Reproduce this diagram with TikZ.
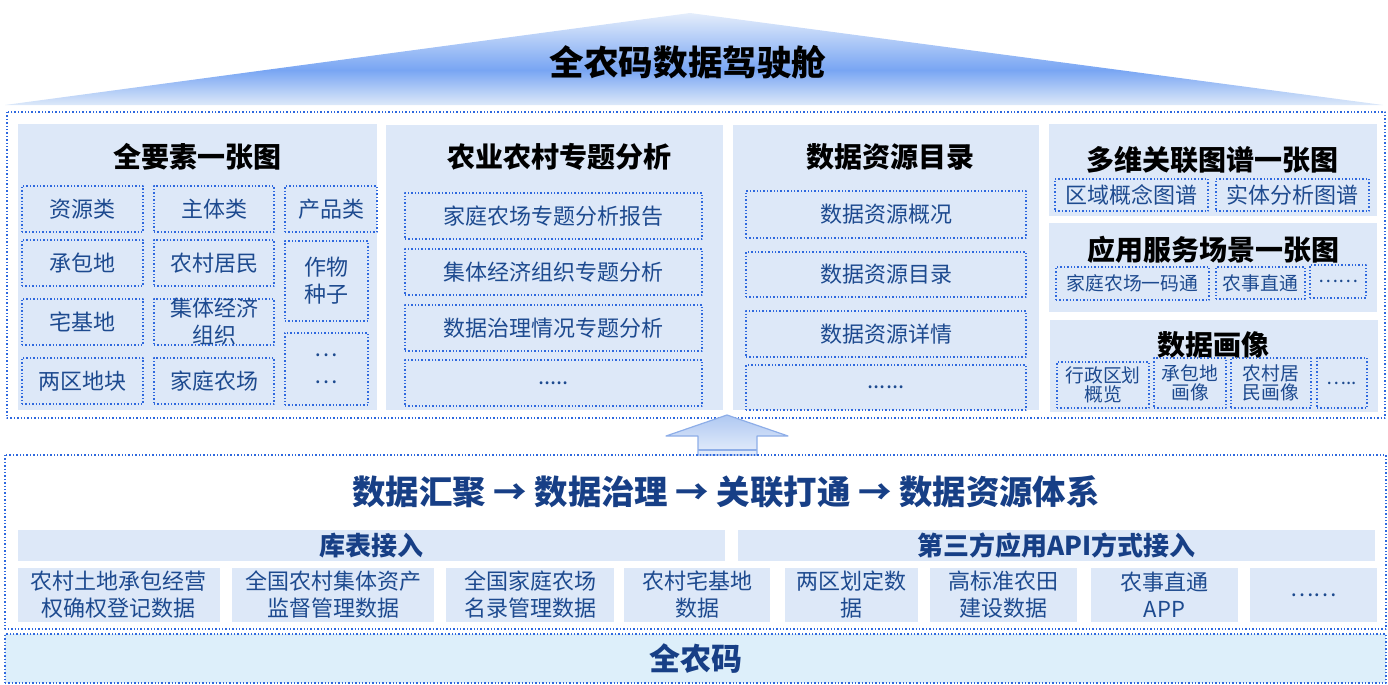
\documentclass[tikz,border=0pt]{standalone}
\usepackage{fontspec}
\newfontfamily\cjk{Noto Sans CJK SC}
\definecolor{panelfill}{HTML}{DDE8F8}
\definecolor{bandfill}{HTML}{DDEFFA}
\definecolor{dotblue}{HTML}{2E68DE}
\definecolor{txtblue}{HTML}{1D4A8F}
\definecolor{darkblue}{HTML}{173F86}
\definecolor{roofmid}{HTML}{78A5F3}
\definecolor{rooflight}{HTML}{DDE9F9}
\definecolor{rooftop}{HTML}{E4EDFB}
\definecolor{arrowtop}{HTML}{AFC8F2}
\definecolor{arrowbot}{HTML}{E6EEFB}
\definecolor{arrowline}{HTML}{8EAEE8}
\pgfdeclareverticalshading{roofshade}{100bp}{color(0bp)=(rooflight); color(25bp)=(rooflight); color(44bp)=(roofmid); color(75bp)=(rooftop); color(100bp)=(rooftop)}
% box from its corners (pixel units): style, name, x1, y1, x2, y2, text
\newcommand{\rbox}[7][]{\node[#1, minimum width={(#5-#3)*0.5pt}, minimum height={(#6-#4)*0.5pt}] (#2) at ({(#3+#5)/2},{(#4+#6)/2}) {#7};}
\begin{document}
\begin{tikzpicture}[x=0.5pt, y=-0.5pt, font=\cjk, line join=round,
	frame/.style={draw=dotblue, densely dotted, line width=0.7pt},
	panel/.style={fill=panelfill, inner sep=0pt, outer sep=0pt},
	cell/.style={frame, text=txtblue, align=center, inner sep=0pt, outer sep=0pt, font=\cjk\fontsize{11}{13.5}\selectfont},
	small/.style={font=\cjk\fontsize{9.4}{9.5}\selectfont},
	datacell/.style={fill=panelfill, text=txtblue, align=center, inner sep=0pt, font=\cjk\fontsize{11}{13.5}\selectfont},
	ptitle/.style={font=\cjk\bfseries\fontsize{14}{16}\selectfont},
	head/.style={fill=panelfill, text=darkblue, inner sep=0pt, font=\cjk\bfseries\fontsize{13}{15}\selectfont}]
	\useasboundingbox (0,0) rectangle (1388,685);

	% roof
	\shade[shading=roofshade] (5,105) -- (690,13) -- (1383,105) -- cycle;
	\node[font=\cjk\bfseries\fontsize{17.3}{20}\selectfont] (title) at (688,62) {全农码数据驾驶舱};

	% upper part
	\draw[frame] (7,112) rectangle (1385,418);
	\rbox[panel]{p1}{18}{124}{377}{410}{}
	\rbox[panel]{p2}{386}{125}{723}{410}{}
	\rbox[panel]{p3}{733}{125}{1039}{410}{}
	\rbox[panel]{p4}{1049}{124}{1377}{216}{}
	\rbox[panel]{p5}{1049}{223}{1377}{312}{}
	\rbox[panel]{p6}{1050}{320}{1378}{412}{}
	\node[ptitle] (t1) at (197,157) {全要素一张图};
	\node[ptitle] (t2) at (559,157) {农业农村专题分析};
	\node[ptitle] (t3) at (890,157) {数据资源目录};
	\node[ptitle] (t4) at (1212,160) {多维关联图谱一张图};
	\node[ptitle] (t5) at (1213,250) {应用服务场景一张图};
	\node[ptitle] (t6) at (1213,345) {数据画像};

	\foreach \ya/\yb/\ta/\tb [count=\i] in {186/232/资源类/主体类, 240/286/承包地/农村居民, 299/345/宅基地/{}, 358/404/两区地块/家庭农场}{
		\rbox[cell]{a\i}{22}{\ya}{143}{\yb}{\ta}
		\rbox[cell]{b\i}{154}{\ya}{274}{\yb}{\tb}
	}
	\node[cell, draw=none] (b3t) at (b3) {集体经济\\组织};
	\rbox[cell]{c1}{285}{186}{377}{232}{产品类}
	\rbox[cell]{c2}{285}{241}{368}{321}{作物\\种子}
	\rbox[cell]{c3}{285}{333}{368}{405}{…\\…}

	\foreach \ya/\yb/\t [count=\i] in {193/239/家庭农场专题分析报告, 249/295/集体经济组织专题分析, 305/351/数据治理情况专题分析}{
		\rbox[cell]{d\i}{405}{\ya}{702}{\yb}{\t}
	}
	\rbox[cell]{d4}{405}{360}{702}{406}{.....}
	\foreach \ya/\yb/\t [count=\i] in {191/238/数据资源概况, 252/297/数据资源目录, 311/357/数据资源详情}{
		\rbox[cell]{e\i}{746}{\ya}{1026}{\yb}{\t}
	}
	\rbox[cell]{e4}{746}{365}{1026}{410}{......}

	\rbox[cell]{f1}{1055}{179}{1208}{211}{区域概念图谱}
	\rbox[cell]{f2}{1216}{179}{1369}{211}{实体分析图谱}
	\rbox[cell, small]{g1}{1056}{267}{1209}{300}{家庭农场一码通}
	\rbox[cell, small]{g2}{1216}{267}{1305}{299}{农事直通}
	\rbox[cell, small]{g3}{1310}{265}{1366}{298}{……}
	\rbox[cell, small]{h1}{1057}{362}{1149}{408}{行政区划\\概览}
	\rbox[cell, small]{h2}{1154}{358}{1226}{408}{承包地\\画像}
	\rbox[cell, small]{h3}{1231}{358}{1311}{408}{农村居\\民画像}
	\rbox[cell, small]{h4}{1317}{358}{1367}{408}{…..}

	% arrow up
	\shade[top color=arrowtop, bottom color=arrowbot, draw=arrowline, line width=0.6pt] (698,455) -- (698,436) -- (666,436) -- (727,415) -- (788,436) -- (757,436) -- (757,455) -- cycle;
	\draw[arrowline, line width=0.6pt] (698,450) -- (757,450);

	% lower part
	\draw[frame] (5,455) rectangle (1386,629);
	\node[text=darkblue, font=\cjk\bfseries\fontsize{16.7}{19}\selectfont] (flow) at (726,492) {数据汇聚 → 数据治理 → 关联打通 → 数据资源体系};
	\rbox[head]{k1}{18}{530}{725}{561}{库表接入}
	\rbox[head]{k2}{738}{530}{1375}{561}{第三方应用API方式接入}
	\foreach \xa/\xb/\t [count=\i] in {18/220/农村土地承包经营\\权确权登记数据, 232/434/全国农村集体资产\\监督管理数据, 446/614/全国家庭农场\\名录管理数据, 624/770/农村宅基地\\数据, 785/918/两区划定数\\据, 930/1077/高标准农田\\建设数据, 1091/1238/农事直通\\APP}{
		\rbox[datacell]{s\i}{\xa}{568}{\xb}{622}{\t}
	}
	\rbox[datacell]{s8}{1250}{568}{1377}{622}{……}

	\rbox[frame, fill=bandfill, text=darkblue, font=\cjk\bfseries\fontsize{15.5}{18}\selectfont]{qnm}{5}{634}{1386}{683}{全农码}
\end{tikzpicture}
\end{document}
